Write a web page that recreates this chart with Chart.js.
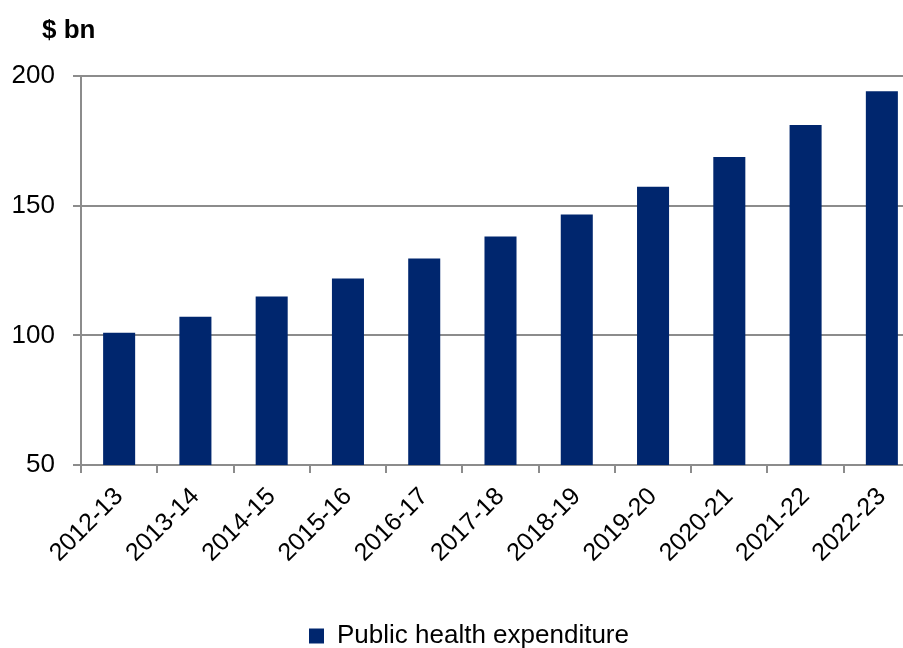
<!DOCTYPE html>
<html>
<head>
<meta charset="utf-8">
<script src="https://cdn.jsdelivr.net/npm/chart.js@4/dist/chart.umd.min.js"></script>
<style>
  html, body { margin: 0; padding: 0; background: #fff; overflow: hidden; }
  #wrap { width: 920px; height: 648px; }
</style>
</head>
<body>
<div id="wrap"><canvas id="c" width="920" height="648"></canvas></div>
<script>
const categories = ["2012-13","2013-14","2014-15","2015-16","2016-17","2017-18","2018-19","2019-20","2020-21","2021-22","2022-23"];
const seriesName = "Public health expenditure";
const publicHealth = [101, 107.2, 115, 121.9, 129.6, 138.1, 146.6, 157.3, 168.8, 181.1, 194.1];
const yTicks = [50, 100, 150, 200];
const unitLabel = "$ bn";

const FONT = "'Liberation Sans', Arial, sans-serif";
const GRID = "#8c8c8c";

const unitPlugin = {
  id: 'unitLabel',
  afterLayout(chart) {
    const lg = chart.legend;
    if (lg) {
      lg.left += 9; lg.right += 9;
      lg.top += 11; lg.bottom += 11;
    }
  },
  afterDraw(chart) {
    const ctx = chart.ctx;
    ctx.save();
    ctx.font = "bold 26px " + FONT;
    ctx.fillStyle = "#000";
    ctx.textBaseline = "alphabetic";
    ctx.textAlign = "left";
    ctx.fillText(unitLabel, 42, 38);
    ctx.restore();
  }
};

new Chart(document.getElementById('c'), {
  type: 'bar',
  data: {
    labels: categories,
    datasets: [{
      label: seriesName,
      data: publicHealth,
      backgroundColor: '#00266e',
      borderWidth: 0,
      barPercentage: 0.42,
      categoryPercentage: 1.0
    }]
  },
  options: {
    responsive: false,
    animation: false,
    layout: { padding: { left: 0, right: 0, top: 76, bottom: 0 } },
    plugins: {
      legend: {
        position: 'bottom',
        labels: {
          font: { family: FONT, size: 26 },
          color: '#000',
          boxWidth: 15,
          boxHeight: 15,
          padding: 10
        }
      },
      tooltip: { enabled: false }
    },
    scales: {
      x: {
        grid: { drawOnChartArea: false, drawTicks: true, tickLength: 8, color: GRID, lineWidth: 2, offset: true },
        border: { color: GRID, width: 2 },
        ticks: {
          font: { family: FONT, size: 25 },
          color: '#000',
          maxRotation: 45,
          minRotation: 45,
          autoSkip: false,
          padding: 9
        },
        afterFit(scale) { scale.height = 137; }
      },
      y: {
        min: 50,
        max: 200,
        afterBuildTicks(scale) { scale.ticks = yTicks.map(v => ({ value: v })); },
        grid: { color: GRID, lineWidth: 2, drawTicks: true, tickLength: 8 },
        border: { color: GRID, width: 2 },
        ticks: {
          font: { family: FONT, size: 26 },
          color: '#000',
          padding: 18
        },
        afterFit(scale) { scale.width = 81; }
      }
    }
  },
  plugins: [unitPlugin]
});
</script>
</body>
</html>
